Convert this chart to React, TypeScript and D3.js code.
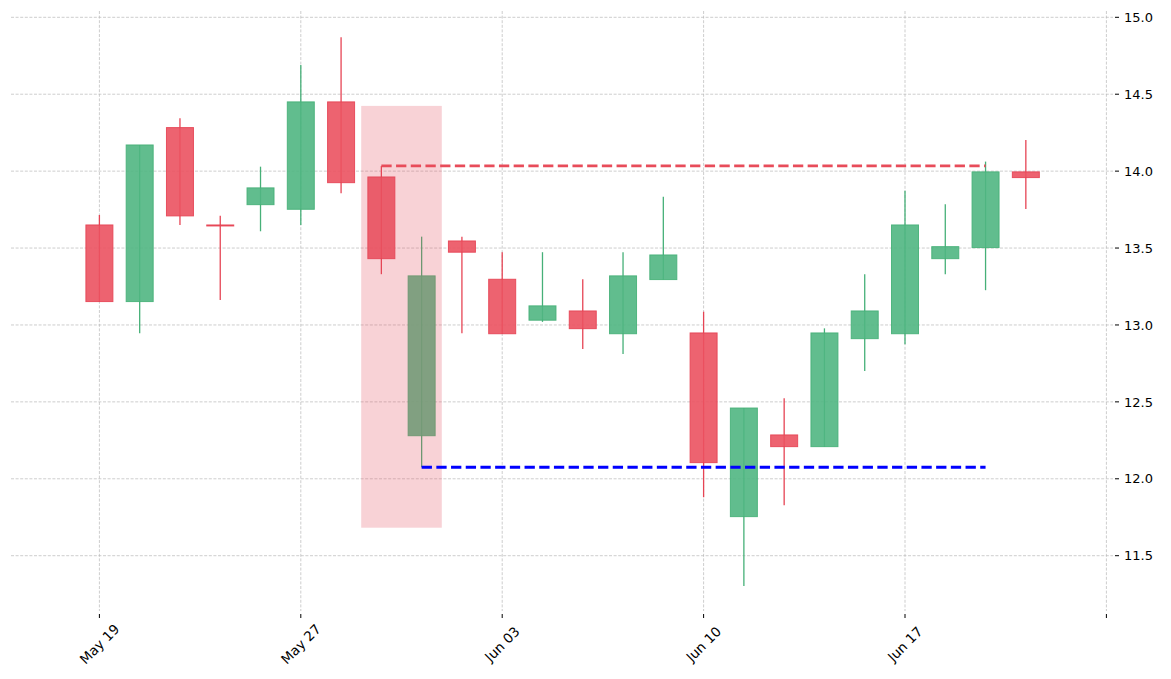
import React from "react";
import * as d3 from "d3";

const dates = [
  "2014-05-19", "2014-05-20", "2014-05-21", "2014-05-22", "2014-05-23",
  "2014-05-27", "2014-05-28", "2014-05-29", "2014-05-30", "2014-06-02",
  "2014-06-03", "2014-06-04", "2014-06-05", "2014-06-06", "2014-06-09",
  "2014-06-10", "2014-06-11", "2014-06-12", "2014-06-13", "2014-06-16",
  "2014-06-17", "2014-06-18", "2014-06-19", "2014-06-20",
];
const opens = [
  13.65, 13.152, 14.283, 13.65, 13.782, 13.752, 14.45, 13.962, 12.28, 13.546,
  13.297, 13.031, 13.091, 12.943, 13.295, 12.948, 11.754, 12.285, 12.209, 12.911,
  12.943, 13.431, 13.503, 13.995,
];
const highs = [
  13.715, 14.17, 14.344, 13.71, 14.029, 14.69, 14.871, 14.034, 13.574, 13.574,
  13.473, 13.473, 13.297, 13.473, 13.834, 13.086, 12.46, 12.523, 12.978, 13.33,
  13.873, 13.785, 14.062, 14.203,
];
const lows = [
  13.15, 12.946, 13.65, 13.163, 13.609, 13.65, 13.856, 13.33, 12.075, 12.946,
  12.943, 13.02, 12.844, 12.811, 13.295, 11.88, 11.303, 11.828, 12.209, 12.701,
  12.875, 13.33, 13.226, 13.754,
];
const closes = [
  13.152, 14.17, 13.709, 13.645, 13.891, 14.45, 13.925, 13.431, 13.319, 13.473,
  12.943, 13.124, 12.976, 13.319, 13.455, 12.105, 12.46, 12.209, 12.948, 13.091,
  13.65, 13.509, 13.995, 13.958,
];
const yTicks = [11.5, 12.0, 12.5, 13.0, 13.5, 14.0, 14.5, 15.0];
const xTickIdx = [0, 5, 10, 15, 20, 25];

// pattern annotations
const patternStart = 6.5;
const patternEnd = 8.5;
const patternTop = 14.424;
const patternBottom = 11.682;
const resistance = { from: 7, to: 22, value: 14.034 };
const support = { from: 8, to: 22, value: 12.075 };

const W = 1171;
const H = 679;
const left = 11;
const right = 1113;
const top = 11;
const bottom = 611;

export default function App() {
  const x = d3.scaleLinear().domain([0, 25]).range([99.4, 1106.4]);
  const y = d3.scaleLinear().domain([11.5, 15.0]).range([555.7, 17.3]);
  const step = x(1) - x(0);
  const bw = step * 0.67;
  const parse = d3.timeParse("%Y-%m-%d");
  const fmt = d3.timeFormat("%b %d");
  const green = "rgb(80,182,130)";
  const greenEdge = "rgb(70,176,120)";
  const red = "rgb(235,82,96)";
  const redEdge = "rgb(230,68,84)";
  const font = "DejaVu Sans, sans-serif";
  const gridColor = "#b8b8b8";

  return (
    <div style={{ position: "fixed", left: 0, top: 0, width: W, height: H, background: "#fff" }}>
      <svg width={W} height={H} style={{ display: "block" }}>
        <rect x={0} y={0} width={W} height={H} fill="#fff" />
        {/* horizontal grid */}
        {yTicks.map((t) => (
          <line key={"hg" + t} x1={left} x2={right} y1={y(t)} y2={y(t)}
            stroke={gridColor} strokeWidth={0.7} strokeDasharray="3,1.6" />
        ))}
        {/* vertical grid */}
        {xTickIdx.map((i) => (
          <line key={"vg" + i} x1={x(i)} x2={x(i)} y1={top} y2={bottom}
            stroke={gridColor} strokeWidth={0.7} strokeDasharray="3,1.6" />
        ))}
        {/* y ticks & labels */}
        {yTicks.map((t) => (
          <g key={"yt" + t}>
            <line x1={1115} x2={1119} y1={y(t)} y2={y(t)} stroke="#000" strokeWidth={1} />
            <text x={1124} y={y(t)} dy="0.36em" fontFamily={font} fontSize={13} fill="#000">
              {t.toFixed(1)}
            </text>
          </g>
        ))}
        {/* x ticks & labels */}
        {xTickIdx.map((i) => (
          <g key={"xt" + i}>
            <line x1={x(i)} x2={x(i)} y1={614} y2={618} stroke="#000" strokeWidth={1} />
            {i < dates.length ? (
              <text transform={`translate(${x(i)},${644}) rotate(-45)`} textAnchor="middle"
                dy="0.36em" fontFamily={font} fontSize={13.5} fill="#000">
                {fmt(parse(dates[i]) as Date)}
              </text>
            ) : null}
          </g>
        ))}
        {/* candles */}
        {dates.map((d, i) => {
          const up = closes[i] > opens[i];
          const fill = up ? green : red;
          const edge = up ? greenEdge : redEdge;
          const bt = y(Math.max(opens[i], closes[i]));
          const bb = y(Math.min(opens[i], closes[i]));
          return (
            <g key={d}>
              <line x1={x(i)} x2={x(i)} y1={y(highs[i])} y2={y(lows[i])}
                stroke={edge} strokeWidth={1.3} />
              <rect x={x(i) - bw / 2} y={bt} width={bw} height={Math.max(bb - bt, 1)}
                fill={fill} fillOpacity={0.9} stroke={edge} strokeOpacity={0.9} strokeWidth={1} />
            </g>
          );
        })}
        {/* pattern highlight */}
        <rect x={x(patternStart)} y={y(patternTop)} width={x(patternEnd) - x(patternStart)}
          height={y(patternBottom) - y(patternTop)} fill="rgb(228,75,91)" fillOpacity={0.25} />
        {/* levels */}
        <line x1={x(resistance.from)} x2={x(resistance.to)} y1={y(resistance.value)} y2={y(resistance.value)}
          stroke="rgb(232,76,90)" strokeWidth={2.8} strokeDasharray="10.3,4.4" />
        <line x1={x(support.from)} x2={x(support.to)} y1={y(support.value)} y2={y(support.value)}
          stroke="#0000ff" strokeWidth={2.8} strokeDasharray="10.3,4.4" />
      </svg>
    </div>
  );
}
